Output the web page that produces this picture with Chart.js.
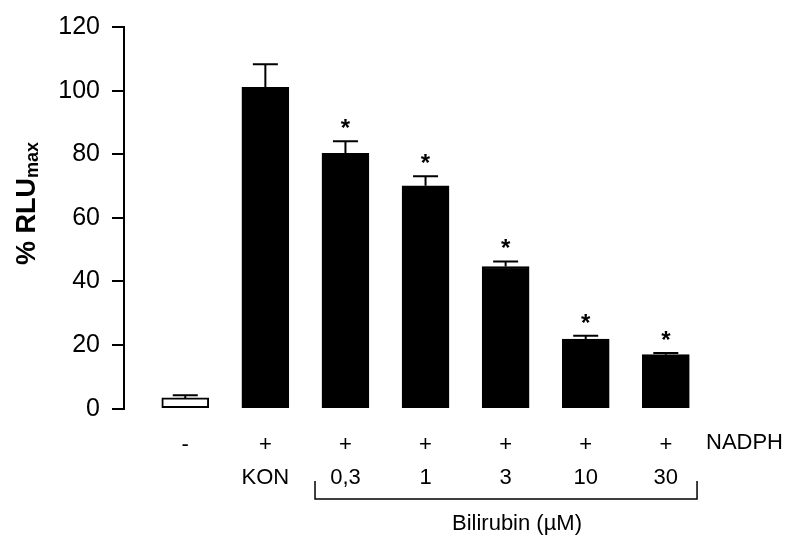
<!DOCTYPE html>
<html>
<head>
<meta charset="utf-8">
<script src="https://cdn.jsdelivr.net/npm/chart.js@4/dist/chart.umd.min.js"></script>
<style>
  body { margin: 0; background: #fff; }
</style>
</head>
<body>
<canvas id="grafica" width="787" height="542"></canvas>
<script>
// data
const nadph = ['-', '+', '+', '+', '+', '+', '+'];
const groups = ['', 'KON', '0,3', '1', '3', '10', '30'];
const rluValues = [3.4, 101, 80.3, 70.1, 44.7, 21.9, 17.0];
const rluErrors = [0.8, 7.3, 3.8, 3.0, 1.6, 1.0, 0.5];
const significant = [false, false, true, true, true, true, true];
const yTicks = [0, 20, 40, 60, 80, 100, 120];

const FONT = "'Liberation Sans', Arial, sans-serif";

const extras = {
    id: 'extras',
    afterDatasetsDraw(chart) {
        const ctx = chart.ctx;
        const x = chart.scales.x;
        const y = chart.scales.y;
        ctx.save();
        ctx.strokeStyle = '#000';
        ctx.fillStyle = '#000';

        // error bars + stars
        rluValues.forEach((v, i) => {
            const cx = x.getPixelForValue(i);
            const yb = y.getPixelForValue(v);
            const yt = y.getPixelForValue(v + rluErrors[i]);
            ctx.lineWidth = 2;
            ctx.beginPath();
            ctx.moveTo(cx, yb);
            ctx.lineTo(cx, yt);
            ctx.moveTo(cx - 12.5, yt);
            ctx.lineTo(cx + 12.5, yt);
            ctx.stroke();
            if (significant[i]) {
                ctx.font = 'bold 24px ' + FONT;
                ctx.textAlign = 'center';
                ctx.textBaseline = 'alphabetic';
                ctx.fillText('*', cx, yt - 5);
            }
        });

        // NADPH row label
        ctx.font = '22px ' + FONT;
        ctx.textAlign = 'left';
        ctx.textBaseline = 'alphabetic';
        ctx.fillText('NADPH', 706, 449);

        // bracket under bilirubin concentrations
        const bl = x.getPixelForValue(2 - 0.38);
        const br = x.getPixelForValue(6 + 0.39);
        ctx.lineWidth = 1.5;
        ctx.beginPath();
        ctx.moveTo(bl, 481);
        ctx.lineTo(bl, 499);
        ctx.lineTo(br, 499);
        ctx.lineTo(br, 481);
        ctx.stroke();
        ctx.textAlign = 'center';
        ctx.fillText('Bilirubin (µM)', 517, 530);

        // y title with subscript
        ctx.translate(35, 265);
        ctx.rotate(-Math.PI / 2);
        ctx.textAlign = 'left';
        ctx.font = 'bold 27px ' + FONT;
        ctx.fillText('% RLU', 0, 0);
        const w = ctx.measureText('% RLU').width;
        ctx.font = 'bold 18px ' + FONT;
        ctx.fillText('max', w, 3);
        ctx.restore();
    }
};

new Chart(document.getElementById('grafica').getContext('2d'), {
    type: 'bar',
    data: {
        datasets: [{
            data: rluValues.map((v, i) => ({ x: i, y: v })),
            backgroundColor: c => nadph[c.dataIndex] === '-' ? '#ffffff' : '#000000',
            borderColor: '#000000',
            borderWidth: 2,
            borderSkipped: false,
            barThickness: 47
        }]
    },
    options: {
        responsive: false,
        animation: false,
        layout: { padding: { top: 20.5, left: 0, right: 60, bottom: 0 } },
        plugins: { legend: { display: false }, tooltip: { enabled: false } },
        scales: {
            x: {
                type: 'linear',
                offset: false,
                min: -0.765,
                max: 6.764,
                afterFit: s => { s.height = 133.3; },
                border: { display: false },
                grid: { display: false },
                ticks: {
                    stepSize: 1,
                    includeBounds: false,
                    autoSkip: false,
                    maxRotation: 0,
                    padding: 12,
                    color: '#000',
                    font: { family: FONT, size: 22, lineHeight: 1.5 },
                    callback: v => Number.isInteger(v) && v >= 0 && v < groups.length ? [nadph[v], groups[v]] : ''
                }
            },
            y: {
                min: 0,
                max: 120,
                afterFit: s => { s.width = 124; },
                afterBuildTicks: s => { s.ticks = yTicks.map(v => ({ value: v })); },
                border: { display: true, color: '#000', width: 2 },
                grid: { drawOnChartArea: false, drawTicks: true, tickLength: 12, tickColor: '#000', lineWidth: 2 },
                ticks: {
                    padding: 12,
                    color: '#000',
                    font: { family: FONT, size: 25 }
                }
            }
        }
    },
    plugins: [extras]
});
</script>
</body>
</html>
